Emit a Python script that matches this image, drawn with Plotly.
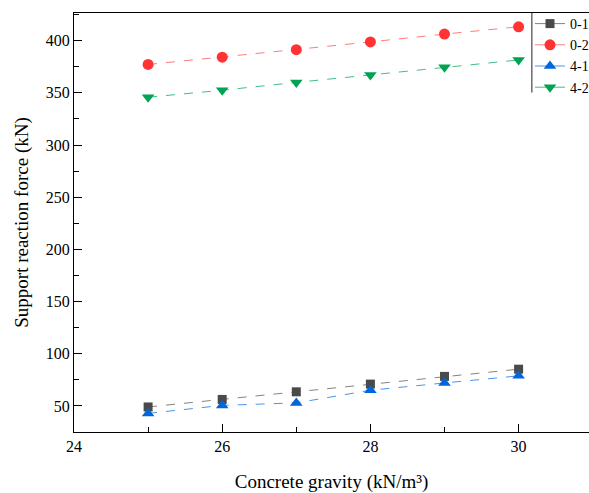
import plotly.graph_objects as go

x_vals = [25, 26, 27, 28, 29, 30]
s01 = [49, 56.2, 63.5, 70.9, 78.3, 85.2]
s02 = [377.2, 384.2, 391.4, 398.8, 406.3, 413.3]
s41 = [42.8, 50.5, 52.9, 65.0, 72.0, 78.8]
s42 = [345.8, 352.5, 360.0, 367.0, 374.5, 381.5]
names = ["0-1", "0-2", "4-1", "4-2"]

series = [s01, s02, s41, s42]
marker_colors = ["#4a4a4a", "#ff3333", "#0066dd", "#00a352"]
line_colors = ["rgba(90,90,90,0.75)", "rgba(255,80,80,0.75)", "rgba(30,120,230,0.8)", "rgba(0,170,90,0.75)"]
symbols = ["square", "circle", "triangle-up", "triangle-down"]
sizes = [9, 11, 11, 11]

fig = go.Figure()
for nm, ys, mc, lc, sym, sz in zip(names, series, marker_colors, line_colors, symbols, sizes):
    fig.add_trace(go.Scatter(
        x=x_vals, y=ys, name=nm, mode="lines+markers", legendgroup=nm, showlegend=False,
        line=dict(color=lc, width=1, dash="dash"),
        marker=dict(symbol=sym, size=sz, color=mc),
    ))
# legend entries (solid line samples, as in the reference legend)
for nm, mc, lc, sym, sz in zip(names, marker_colors, line_colors, symbols, sizes):
    fig.add_trace(go.Scatter(
        x=[None], y=[None], name=nm, mode="lines+markers", legendgroup=nm, showlegend=True,
        line=dict(color=lc, width=1),
        marker=dict(symbol=sym, size=sz, color=mc),
    ))

font_family = "Liberation Serif, Times New Roman, serif"

fig.update_layout(
    width=589, height=493,
    margin=dict(l=74, r=0, t=13, b=61, autoexpand=False),
    plot_bgcolor="white", paper_bgcolor="white",
    font=dict(family=font_family, size=16, color="black"),
    showlegend=True,
    legend=dict(
        xref="container", yref="container",
        x=530/589, y=1 - 8/493, xanchor="left", yanchor="top",
        bgcolor="rgba(0,0,0,0)", borderwidth=0,
        font=dict(family=font_family, size=14, color="black"),
        tracegroupgap=0, itemwidth=30,
    ),
    xaxis=dict(
        range=[24, 30.95], tickmode="linear", tick0=24, dtick=2,
        ticks="inside", ticklen=8, tickwidth=1, tickcolor="black",
        minor=dict(ticks="inside", ticklen=5, dtick=1, tickcolor="black", tickwidth=1),
        showline=True, linecolor="black", linewidth=1.3, mirror=True,
        showgrid=False, zeroline=False,
        title=dict(text="Concrete gravity (kN/m³)", font=dict(size=19, family=font_family), standoff=20),
        tickfont=dict(size=16, family=font_family),
    ),
    yaxis=dict(
        range=[25, 426.5], tickmode="linear", tick0=0, dtick=50,
        ticks="inside", ticklen=8, tickwidth=1, tickcolor="black",
        minor=dict(ticks="inside", ticklen=5, dtick=25, tickcolor="black", tickwidth=1),
        showline=True, linecolor="black", linewidth=1.3, mirror=False,
        showgrid=False, zeroline=False,
        title=dict(text="Support reaction force (kN)", font=dict(size=19, family=font_family), standoff=12),
        tickfont=dict(size=16, family=font_family),
    ),
)

# legend box left border
fig.add_shape(type="line", xref="paper", yref="paper", x0=0.889, x1=0.889, y0=1, y1=0.81,
              line=dict(color="#555555", width=1.3))

fig.write_html("out.html", config={"displayModeBar": False},
               post_script="document.body.style.margin='0';")
